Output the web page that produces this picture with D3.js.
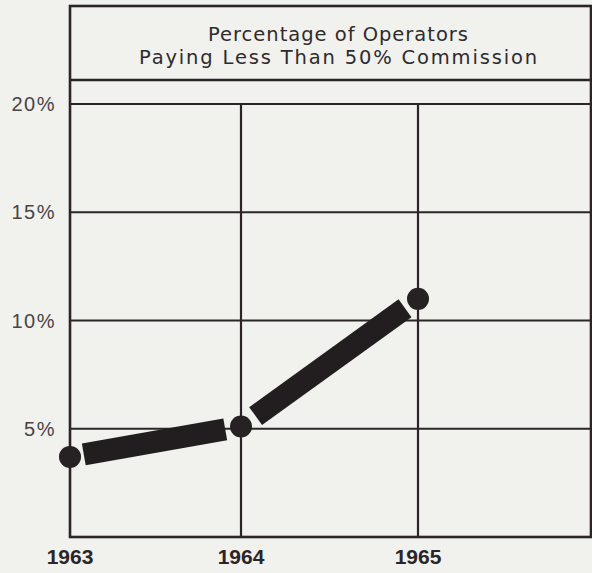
<!DOCTYPE html>
<script src="https://cdnjs.cloudflare.com/ajax/libs/d3/7.8.5/d3.min.js"></script>
<style type="text/css">
    body {
        margin: 0;
        padding: 0;
        background-color: #f1f1ee;
    }

    svg {
        display: block;
        background-color: #f1f1ee;
    }

    .grid line {
        stroke: #2b2527;
        stroke-width: 2.2;
    }

    .frame {
        fill: none;
        stroke: #2b2527;
        stroke-width: 2.6;
    }

    .ylab {
        fill: #4a4446;
        font-family: "Liberation Sans", Arial, sans-serif;
        font-size: 20px;
        letter-spacing: 1.5px;
    }

    .xlab {
        fill: #2b2527;
        font-family: "Liberation Sans", Arial, sans-serif;
        font-weight: bold;
        font-size: 21px;
    }

    .title {
        fill: #2f2a2c;
        font-family: "DejaVu Sans", sans-serif;
        font-size: 19.5px;
    }
</style>

<body>
</body>

<script>

var years = [1963, 1964, 1965];
var pct = [3.7, 5.1, 11.0];
var gridYears = [1963, 1964, 1965, 1966];
var yTicks = [5, 10, 15, 20];
var yTickLabels = ["5%", "10%", "15%", "20%"];
var titleLines = ["Percentage of Operators", "Paying Less Than 50% Commission"];

var width = 592;
var height = 573;

var plotLeft = 70, plotRight = 591, frameTop = 6, titleBottom = 80, plotBottom = 537;

// grid columns in the original are not quite even
var x = d3.scaleLinear()
    .domain(gridYears)
    .range([plotLeft, 241, 418, plotRight]);

var y = d3.scaleLinear()
    .domain([0, 20])
    .range([plotBottom, 104]);

var svg = d3.select("body")
    .append("svg")
    .attr("width", width)
    .attr("height", height);

// horizontal grid
svg.append("g")
    .attr("class", "grid")
    .selectAll("line")
    .data(yTicks)
    .enter().append("line")
    .attr("x1", plotLeft)
    .attr("x2", plotRight)
    .attr("y1", function (d) { return y(d); })
    .attr("y2", function (d) { return y(d); });

// vertical grid
svg.append("g")
    .attr("class", "grid")
    .selectAll("line")
    .data(gridYears.slice(1, 3))
    .enter().append("line")
    .attr("x1", function (d) { return x(d); })
    .attr("x2", function (d) { return x(d); })
    .attr("y1", y(20))
    .attr("y2", plotBottom);

// title band line
svg.append("line")
    .attr("class", "frame")
    .attr("x1", plotLeft).attr("x2", plotRight)
    .attr("y1", titleBottom).attr("y2", titleBottom);

svg.append("rect")
    .attr("class", "frame")
    .attr("x", plotLeft)
    .attr("y", frameTop)
    .attr("width", plotRight - plotLeft)
    .attr("height", plotBottom - frameTop);

// title
var titleLen = [260, 398];
svg.append("g")
    .selectAll("text")
    .data(titleLines)
    .enter().append("text")
    .attr("class", "title")
    .attr("x", 338)
    .attr("y", function (d, i) { return 41 + i * 23; })
    .attr("text-anchor", "middle")
    .attr("textLength", function (d, i) { return titleLen[i]; })
    .attr("lengthAdjust", "spacing")
    .text(function (d) { return d; });

// y labels
svg.append("g")
    .selectAll("text")
    .data(yTicks)
    .enter().append("text")
    .attr("class", "ylab")
    .attr("x", 56)
    .attr("y", function (d) { return y(d); })
    .attr("dy", "0.36em")
    .attr("text-anchor", "end")
    .text(function (d, i) { return yTickLabels[i]; });

// x labels
svg.append("g")
    .selectAll("text")
    .data(years)
    .enter().append("text")
    .attr("class", "xlab")
    .attr("x", function (d) { return x(d); })
    .attr("y", 564)
    .attr("text-anchor", "middle")
    .text(function (d) { return d; });

// thick bars between the points, cut short of the dots
var pts = years.map(function (d, i) { return [x(d), y(pct[i])]; });
var gapStart = [14, 18], gapEnd = [16, 16];
var segs = d3.pairs(pts).map(function (p, i) {
    var dx = p[1][0] - p[0][0], dy = p[1][1] - p[0][1];
    var len = Math.sqrt(dx * dx + dy * dy);
    var ux = dx / len, uy = dy / len;
    return [
        [p[0][0] + ux * gapStart[i], p[0][1] + uy * gapStart[i]],
        [p[1][0] - ux * gapEnd[i], p[1][1] - uy * gapEnd[i]]
    ];
});

svg.append("g")
    .selectAll("path")
    .data(segs)
    .enter().append("path")
    .attr("d", d3.line())
    .attr("fill", "none")
    .attr("stroke", "#221e1f")
    .attr("stroke-width", 22)
    .attr("stroke-linecap", "butt");

svg.append("g")
    .selectAll("circle")
    .data(pts)
    .enter().append("circle")
    .attr("cx", function (d) { return d[0]; })
    .attr("cy", function (d) { return d[1]; })
    .attr("r", 11)
    .attr("fill", "#262123");

</script>
